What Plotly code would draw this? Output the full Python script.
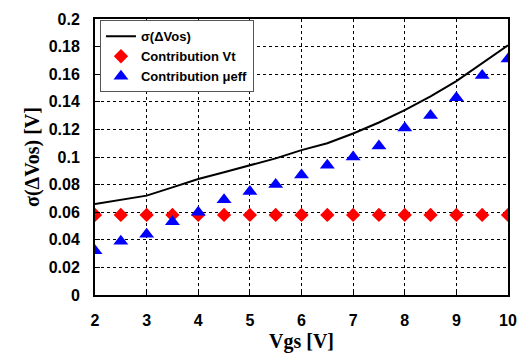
import plotly.graph_objects as go

vgs = [2, 2.5, 3, 3.5, 4, 4.5, 5, 5.5, 6, 6.5, 7, 7.5, 8, 8.5, 9, 9.5, 10]
sigma_vos = [0.066, 0.069, 0.072, 0.078, 0.084, 0.089, 0.094, 0.099, 0.105, 0.110,
             0.117, 0.125, 0.134, 0.144, 0.155, 0.168, 0.181]
contrib_vt = [0.058] * 17
contrib_mu = [0.032, 0.039, 0.044, 0.053, 0.060, 0.069, 0.075, 0.080, 0.087, 0.094,
              0.100, 0.108, 0.121, 0.130, 0.143, 0.159, 0.171]

fig = go.Figure()
fig.add_trace(go.Scatter(x=vgs, y=sigma_vos, mode="lines", name="σ(ΔVos)",
                         line=dict(color="black", width=2)))
fig.add_trace(go.Scatter(x=vgs, y=contrib_vt, mode="markers", name="Contribution Vt",
                         marker=dict(symbol="diamond", color="red", size=11)))
fig.add_trace(go.Scatter(x=vgs, y=contrib_mu, mode="markers", name="Contribution μeff",
                         marker=dict(symbol="triangle-up", color="blue", size=13)))

tickf = dict(family="Liberation Sans, Arial", size=16, color="black", weight="bold")
titlef = dict(family="Liberation Serif, Times New Roman", size=20, color="black", weight="bold")

fig.update_layout(
    width=528, height=361,
    margin=dict(l=95, r=11, t=15, b=66),
    paper_bgcolor="white", plot_bgcolor="white",
    font=dict(family="Liberation Sans, Arial", color="black"),
    legend=dict(x=0.012, y=0.995, xanchor="left", yanchor="top",
                bgcolor="white", bordercolor="#555", borderwidth=1,
                font=dict(family="Liberation Sans, Arial", size=13, color="black", weight="bold"),
                tracegroupgap=0, itemwidth=30),
    showlegend=True,
)
fig.update_xaxes(range=[2, 10], tickvals=list(range(2, 11)),
                 showgrid=True, gridcolor="black", griddash="dot", gridwidth=1,
                 showline=True, linecolor="black", linewidth=2, mirror=True,
                 ticks="inside", ticklen=5, tickcolor="black",
                 tickfont=tickf, ticklabelstandoff=10,
                 title=dict(text="Vgs [V]", font=titlef, standoff=6),
                 zeroline=False)
fig.update_yaxes(range=[0, 0.2], tickvals=[0, 0.02, 0.04, 0.06, 0.08, 0.1, 0.12, 0.14, 0.16, 0.18, 0.2],
                 ticktext=["0", "0.02", "0.04", "0.06", "0.08", "0.1", "0.12", "0.14", "0.16", "0.18", "0.2"],
                 showgrid=True, gridcolor="black", griddash="dot", gridwidth=1,
                 showline=True, linecolor="black", linewidth=2, mirror=True,
                 ticks="inside", ticklen=5, tickcolor="black",
                 tickfont=tickf, ticklabelstandoff=10,
                 title=dict(text="σ(ΔVos) [V]", font=titlef, standoff=4),
                 zeroline=False)

fig.write_html("out.html")
